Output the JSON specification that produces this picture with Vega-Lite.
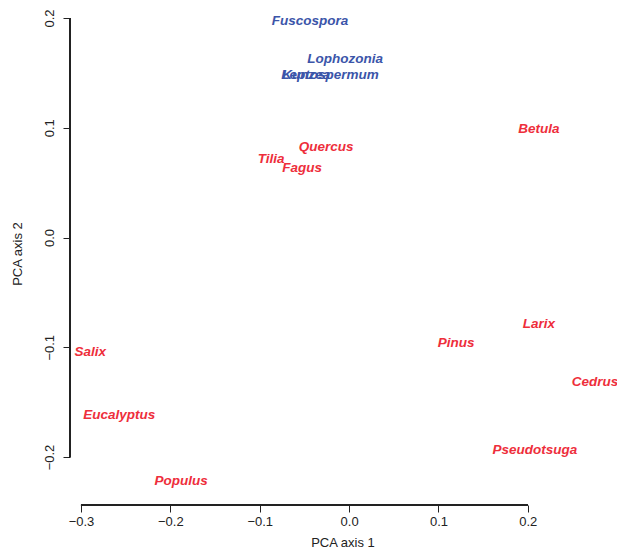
{
  "$schema": "https://vega.github.io/schema/vega-lite/v6.json",
  "width": 545,
  "height": 503,
  "autosize": "none",
  "padding": {"left": 70, "top": 2, "right": 2, "bottom": 43},
  "background": "white",
  "config": {
    "view": {"stroke": null},
    "font": "Liberation Sans"
  },
  "data": {
    "values": [
      {"genus": "Fuscospora", "pc1": -0.0436, "pc2": 0.1977, "group": "B"},
      {"genus": "Lophozonia", "pc1": -0.0045, "pc2": 0.1631, "group": "B"},
      {"genus": "Leptospermum", "pc1": -0.0213, "pc2": 0.1485, "group": "B"},
      {"genus": "Kunzea", "pc1": -0.048, "pc2": 0.1485, "group": "B"},
      {"genus": "Quercus", "pc1": -0.0257, "pc2": 0.0829, "group": "A"},
      {"genus": "Tilia", "pc1": -0.0872, "pc2": 0.072, "group": "A"},
      {"genus": "Fagus", "pc1": -0.0526, "pc2": 0.0638, "group": "A"},
      {"genus": "Betula", "pc1": 0.2125, "pc2": 0.0993, "group": "A"},
      {"genus": "Larix", "pc1": 0.2125, "pc2": -0.0784, "group": "A"},
      {"genus": "Pinus", "pc1": 0.1197, "pc2": -0.0957, "group": "A"},
      {"genus": "Cedrus", "pc1": 0.2752, "pc2": -0.1312, "group": "A"},
      {"genus": "Pseudotsuga", "pc1": 0.208, "pc2": -0.194, "group": "A"},
      {"genus": "Salix", "pc1": -0.2897, "pc2": -0.1039, "group": "A"},
      {"genus": "Eucalyptus", "pc1": -0.2573, "pc2": -0.1613, "group": "A"},
      {"genus": "Populus", "pc1": -0.1879, "pc2": -0.2214, "group": "A"}
    ]
  },
  "layer": [
    {
      "mark": {"type": "rule", "color": "#222222", "strokeWidth": 1},
      "encoding": {
        "x": {"datum": -0.3, "type": "quantitative", "scale": {"domain": [-0.3123, 0.2976], "nice": false, "zero": false}},
        "x2": {"datum": 0.2},
        "y": {"value": "height"}
      }
    },
    {
      "mark": {"type": "rule", "color": "#222222", "strokeWidth": 1},
      "encoding": {
        "y": {"datum": -0.2, "type": "quantitative", "scale": {"domain": [-0.2437, 0.2146], "nice": false, "zero": false}},
        "y2": {"datum": 0.2},
        "x": {"value": 0}
      }
    },
    {
      "mark": {"type": "text", "fontStyle": "italic", "fontWeight": "bold", "fontSize": 13.5, "align": "center", "baseline": "middle"},
      "encoding": {
        "x": {
          "field": "pc1", "type": "quantitative",
          "scale": {"domain": [-0.3123, 0.2976], "nice": false, "zero": false},
          "axis": {
            "title": "PCA axis 1", "values": [-0.3, -0.2, -0.1, 0, 0.1, 0.2], "format": ".1f",
            "domain": false, "grid": false, "tickSize": 7, "tickColor": "#222222",
            "labelPadding": 3, "labelFontSize": 13, "labelColor": "#222222", "labelFont": "Liberation Sans",
            "titleFontSize": 13, "titleFontWeight": "normal", "titleColor": "#222222", "titleFont": "Liberation Sans",
            "titleY": 37, "titleBaseline": "middle"
          }
        },
        "y": {
          "field": "pc2", "type": "quantitative",
          "scale": {"domain": [-0.2437, 0.2146], "nice": false, "zero": false},
          "axis": {
            "title": "PCA axis 2", "values": [-0.2, -0.1, 0, 0.1, 0.2], "format": ".1f",
            "domain": false, "grid": false, "tickSize": 7, "tickColor": "#222222",
            "labelAngle": -90, "labelAlign": "center", "labelBaseline": "bottom",
            "labelPadding": 7, "labelFontSize": 13, "labelColor": "#222222", "labelFont": "Liberation Sans",
            "titleFontSize": 13, "titleFontWeight": "normal", "titleColor": "#222222", "titleFont": "Liberation Sans",
            "titleX": -53, "titleBaseline": "middle"
          }
        },
        "text": {"field": "genus"},
        "color": {
          "field": "group", "type": "nominal",
          "scale": {"domain": ["A", "B"], "range": ["#ee2e3b", "#3b55a9"]},
          "legend": null
        }
      }
    }
  ]
}
